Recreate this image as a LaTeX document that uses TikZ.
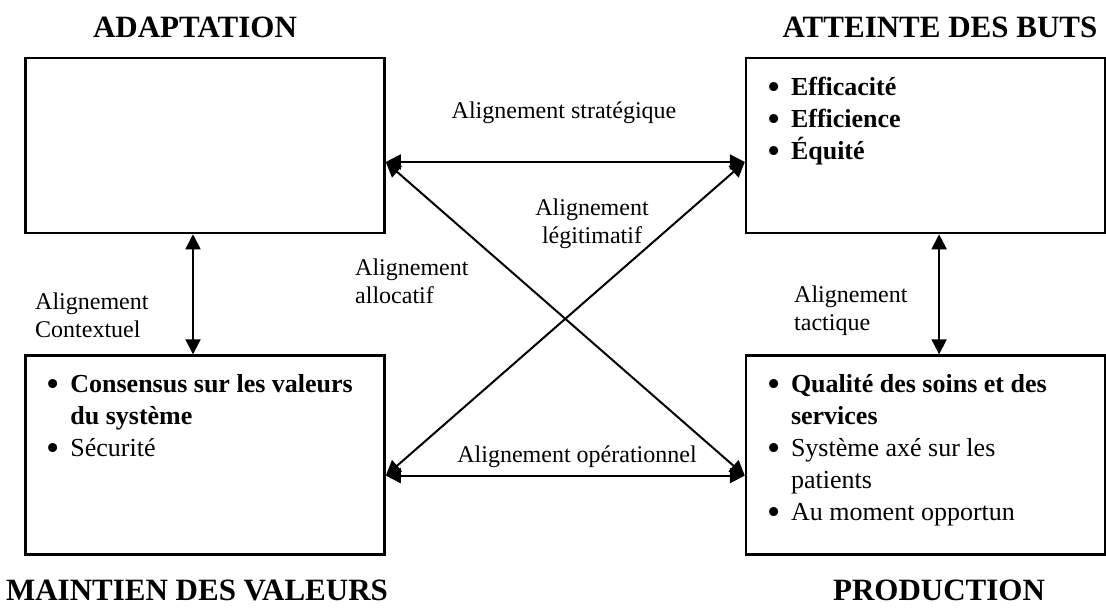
\documentclass[tikz,border=0pt]{standalone}
\usepackage{fontspec}
\setmainfont{Liberation Serif}
\usepackage{tikz}
\usetikzlibrary{positioning,arrows.meta}
\tikzset{>={Triangle[length=15pt,width=15pt]}}
\newcommand{\puce}{\smash{\raisebox{-4pt}{\scalebox{1.45}{\textbullet}}}}

\begin{document}
\begin{tikzpicture}[x=1pt,y=-1pt,
boite/.style={rectangle, draw=black, line width=2.6pt, minimum width=359pt, inner sep=0pt},
haute/.style={boite, minimum height=175pt},
basse/.style={boite, minimum height=199pt},
titre/.style={font=\fontsize{31}{36}\selectfont\bfseries},
etiquette/.style={font=\fontsize{24}{28}\selectfont, align=left, inner sep=0pt},
liste/.style={font=\fontsize{26}{32}\selectfont, anchor=north west, inner sep=0pt},
fleche/.style={<->, line width=2pt},
]
\useasboundingbox (0,0) rectangle (1106,610);

%Nodes
\node[haute](Adapt) at (205,145.5){};
\node[haute](Buts)[right=359pt of Adapt]{};
\node[basse](Maintien)[below=120pt of Adapt]{};
\node[basse](Prod)[below=120pt of Buts]{};

\node[titre](TitreAdapt) at (195,27){ADAPTATION};
\node[titre](TitreButs) at (940,27){ATTEINTE DES BUTS};
\node[titre](TitreMaintien) at (197,590){MAINTIEN DES VALEURS};
\node[titre](TitreProd) at (939,590){PRODUCTION};

\node[liste](ListeButs) at ([shift={(22,16)}]Buts.north west){%
\begin{tabular}{@{}p{24pt}@{}l@{}}
\puce & \textbf{Efficacité}\\
\puce & \textbf{Efficience}\\
\puce & \textbf{Équité}
\end{tabular}};
\node[liste](ListeMaintien) at ([shift={(22,16)}]Maintien.north west){%
\begin{tabular}{@{}p{24pt}@{}l@{}}
\puce & \textbf{Consensus sur les valeurs}\\
 & \textbf{du système}\\
\puce & Sécurité
\end{tabular}};
\node[liste](ListeProd) at ([shift={(22,16)}]Prod.north west){%
\begin{tabular}{@{}p{24pt}@{}l@{}}
\puce & \textbf{Qualité des soins et des}\\
 & \textbf{services}\\
\puce & Système axé sur les\\
 & patients\\
\puce & Au moment opportun
\end{tabular}};

%Labels
\node[etiquette](LabStrat) at (564,113){Alignement stratégique};
\node[etiquette, align=center](LabLegit) at (592,224){Alignement\\légitimatif};
\node[etiquette, anchor=west](LabAlloc) at (355,281){Alignement\\allocatif};
\node[etiquette, anchor=west](LabContexte) at (35,315){Alignement\\Contextuel};
\node[etiquette, anchor=west](LabTact) at (794,311){Alignement\\tactique};
\node[etiquette](LabOper) at (577,457){Alignement opérationnel};

%Lines
\draw[fleche] ([yshift=-16.5pt]Adapt.east) -- ([yshift=-16.5pt]Buts.west);
\draw[fleche] ([yshift=-20.5pt]Maintien.east) -- ([yshift=-20.5pt]Prod.west);
\draw[fleche] ([yshift=-16.5pt]Adapt.east) -- ([yshift=-20.5pt]Prod.west);
\draw[fleche] ([yshift=-16.5pt]Buts.west) -- ([yshift=-20.5pt]Maintien.east);
\draw[fleche] ([xshift=-12pt]Adapt.south) -- ([xshift=-12pt]Maintien.north);
\draw[fleche] ([xshift=13.5pt]Buts.south) -- ([xshift=13.5pt]Prod.north);
\end{tikzpicture}
\end{document}
